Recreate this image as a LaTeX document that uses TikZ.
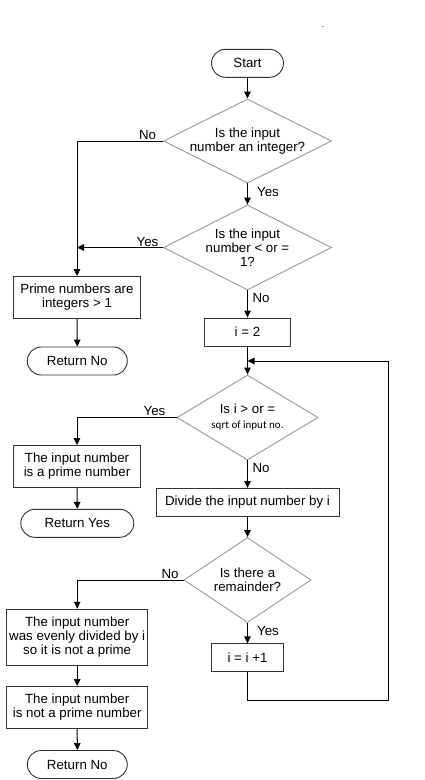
\documentclass[tikz,border=0pt]{standalone}
\usepackage{fontspec}
\setmainfont{Liberation Sans}
\newfontfamily\calib{Carlito}
\usetikzlibrary{shapes.geometric,shapes.misc,arrows.meta}
\definecolor{boxline}{HTML}{333333}
\definecolor{dialine}{HTML}{999999}
\definecolor{dotblue}{HTML}{5B9BD5}
\begin{document}
\begin{tikzpicture}[x=1pt,y=-1pt,
  every node/.style={font=\fontsize{13.3}{14}\selectfont, text=black},
  term/.style={rounded rectangle, draw=boxline, line width=0.9pt, inner sep=0pt, minimum height=28pt},
  proc/.style={rectangle, draw=boxline, line width=0.9pt, inner sep=0pt, align=center},
  dec/.style={diamond, draw=dialine, line width=0.9pt, inner sep=0pt, align=center},
  lbl/.style={inner sep=0pt},
  arr/.style={draw=black, line width=1pt, -{Triangle[length=7pt,width=6.5pt]}},
  ln/.style={draw=black, line width=1pt}]
\useasboundingbox (0,0) rectangle (425,780);
\fill[white] (0,0) rectangle (425,780);
\fill[dotblue] (321.5,25.5) rectangle (323.5,26.8);

\node[term, minimum width=72pt] (start) at (247.5,63.3) {Start};
\node[dec, aspect=2, minimum width=168pt, minimum height=84pt] (d1) at (247.5,141) {Is the input\\number an integer?};
\node[dec, aspect=2, minimum width=168pt, minimum height=85pt] (d2) at (247.5,247.5) {Is the input\\number < or =\\1?};
\node[proc, minimum width=127pt, minimum height=42pt] (prime) at (77,297.5) {Prime numbers are\\integers > 1};
\node[term, minimum width=100pt] (retno1) at (77.3,361) {Return No};
\node[proc, minimum width=86pt, minimum height=28pt] (i2) at (247.5,332) {i = 2};
\node[dec, aspect=1.66, minimum width=141pt, minimum height=85pt] (d3) at (247.5,417.5) {Is i > or =\\[1pt]{\calib\fontsize{11}{12}\selectfont sqrt of input no.}};
\node[proc, minimum width=127pt, minimum height=42pt] (isprime) at (77,466.5) {The input number\\is a prime number};
\node[term, minimum width=113pt] (retyes) at (77.3,523.3) {Return Yes};
\node[proc, minimum width=183pt, minimum height=28pt] (divide) at (247.5,502.5) {Divide the input number by i};
\node[dec, aspect=1.5, minimum width=127pt, minimum height=85pt] (d4) at (247.5,580) {Is there a\\remainder?};
\node[proc, minimum width=141pt, minimum height=56pt] (evenly) at (77.2,637.2) {The input number\\was evenly divided by i\\so it is not a prime};
\node[proc, minimum width=141pt, minimum height=42pt] (notprime) at (77.2,707.5) {The input number\\is not a prime number};
\node[term, minimum width=100pt] (retno2) at (77.3,764.5) {Return No};
\node[proc, minimum width=72pt, minimum height=28pt] (inc) at (247.5,657.8) {i = i +1};

\node[lbl] (l1) at (147.5,135) {No};
\node[lbl] (l2) at (268,191.5) {Yes};
\node[lbl] (l3) at (147.5,241.5) {Yes};
\node[lbl] (l4) at (261,298) {No};
\node[lbl] (l5) at (154.5,410.5) {Yes};
\node[lbl] (l6) at (261,467.5) {No};
\node[lbl] (l7) at (170,574) {No};
\node[lbl] (l8) at (268,630.5) {Yes};

\coordinate (loopin) at (247.5,361);
\coordinate (loopb) at (247.5,700);
\coordinate (loopr) at (388.3,700);

\draw[arr] (start.south) -- (d1.north);
\draw[arr] (d1.west) -| (prime.north);
\draw[arr] (d1.south) -- (d2.north);
\draw[arr] (d2.west) -- (prime.north |- d2.west);
\draw[arr] (d2.south) -- (i2.north);
\draw[arr] (prime.south) -- (retno1.north);
\draw[arr] (i2.south) -- (d3.north);
\draw[arr] (d3.west) -| (isprime.north);
\draw[arr] (isprime.south) -- (retyes.north);
\draw[arr] (d3.south) -- (divide.north);
\draw[arr] (divide.south) -- (d4.north);
\draw[arr] (d4.west) -| (evenly.north);
\draw[arr] (evenly.south) -- (notprime.north);
\draw[arr] (notprime.south) -- (retno2.north);
\draw[arr] (d4.south) -- (inc.north);
\draw[arr] (inc.south) -- (loopb) -- (loopr) |- (loopin);
\end{tikzpicture}
\end{document}
